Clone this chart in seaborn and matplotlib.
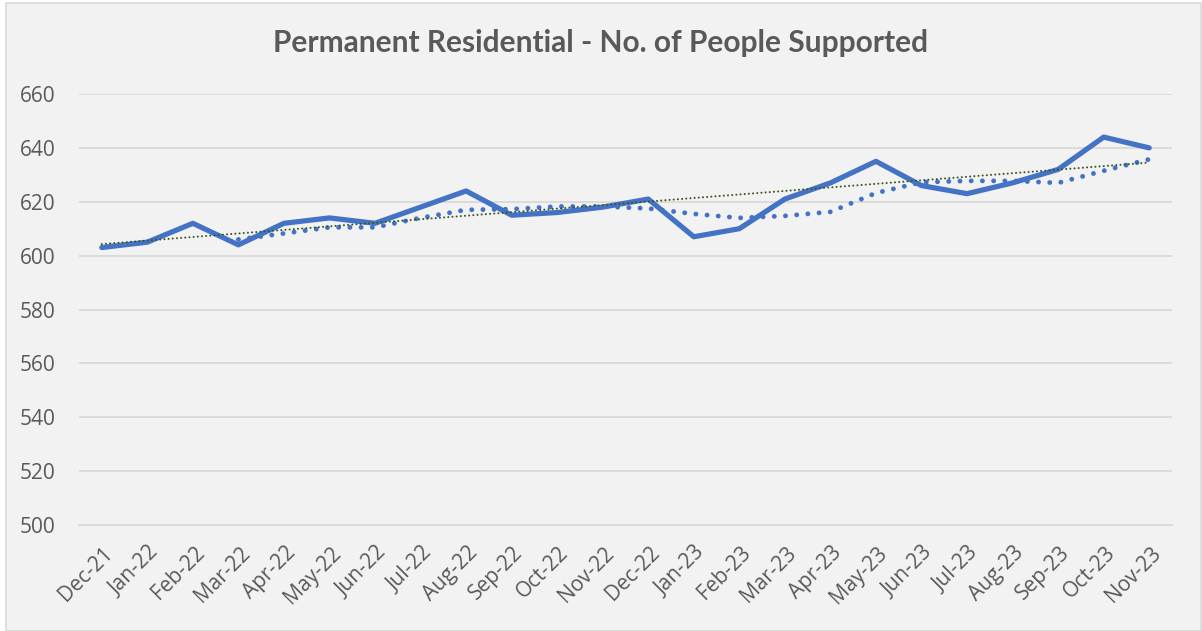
import numpy as np
import pandas as pd
import seaborn as sns
import matplotlib.pyplot as plt
from matplotlib.patches import Rectangle
from matplotlib.transforms import ScaledTranslation

months = ['Dec-21', 'Jan-22', 'Feb-22', 'Mar-22', 'Apr-22', 'May-22', 'Jun-22',
          'Jul-22', 'Aug-22', 'Sep-22', 'Oct-22', 'Nov-22', 'Dec-22', 'Jan-23',
          'Feb-23', 'Mar-23', 'Apr-23', 'May-23', 'Jun-23', 'Jul-23', 'Aug-23',
          'Sep-23', 'Oct-23', 'Nov-23']
people = [603, 605, 612, 604, 612, 614, 612, 618, 624, 615, 616, 618,
          621, 607, 610, 621, 627, 635, 626, 623, 627, 632, 644, 640]
y_ticks = [500, 520, 540, 560, 580, 600, 620, 640, 660]
title = 'Permanent Residential - No. of People Supported'

blue = '#4472c4'
grey_text = '#595959'
grid_col = '#d9d9d9'
trend_col = '#385723'

sns.set_style('white')
plt.rcParams['font.family'] = ['Open Sans', 'DejaVu Sans']

df = pd.DataFrame({'month': months, 'people': people})
df['idx'] = np.arange(len(df))
df['ma4'] = df['people'].rolling(4).mean()

fig = plt.figure(figsize=(12.02, 6.31), dpi=100, facecolor='white')
fig.patches.append(Rectangle((6 / 1202, 0), 1 - 7 / 1202, 1 - 3 / 631,
                             transform=fig.transFigure, facecolor='#f2f2f2',
                             edgecolor=grid_col, linewidth=1.2, zorder=-10))
ax = fig.add_axes([79 / 1202, 1 - 525 / 631, (1172 - 79) / 1202, (525 - 94) / 631])
ax.set_facecolor('none')

# main series
sns.lineplot(data=df, x='idx', y='people', ax=ax, color=blue, linewidth=3.75,
             solid_capstyle='round', solid_joinstyle='round', zorder=3)
# 4 period moving average
sns.lineplot(data=df.dropna(), x='idx', y='ma4', ax=ax, color=blue, linewidth=3.5,
             linestyle=(0, (0.01, 2.3)), dash_capstyle='round', zorder=4)
# linear trend
sns.regplot(data=df, x='idx', y='people', ax=ax, scatter=False, ci=None,
            line_kws={'color': trend_col, 'linewidth': 1.5,
                      'linestyle': (0, (0.01, 2.0)), 'dash_capstyle': 'round',
                      'zorder': 5})

ax.set_xlim(-0.5, len(months) - 0.5)
ax.set_ylim(500, 660)
ax.set_yticks(y_ticks)
ax.set_yticklabels([str(v) for v in y_ticks])
ax.yaxis.grid(True, color=grid_col, linewidth=1.3)
ax.set_axisbelow(True)

ax.set_xticks(df['idx'])
ax.set_xticklabels(months, rotation=45, ha='right', va='center',
                   rotation_mode='anchor')
ax.set_xticks(np.arange(-0.5, len(months), 1), minor=True)
ax.tick_params(axis='x', which='major', length=0, pad=18, labelsize=15,
               labelcolor=grey_text)
ax.tick_params(axis='x', which='minor', length=7, width=1.3, color=grid_col,
               direction='out')
ax.tick_params(axis='y', length=0, pad=17, labelsize=15, labelcolor=grey_text)
offset = ScaledTranslation(6 / 72, 0, fig.dpi_scale_trans)
for lbl in ax.get_xticklabels():
    lbl.set_transform(lbl.get_transform() + offset)

for side in ['top', 'right', 'left']:
    ax.spines[side].set_visible(False)
ax.spines['bottom'].set_color(grid_col)
ax.spines['bottom'].set_linewidth(1.3)
ax.set_xlabel('')
ax.set_ylabel('')

fig.text(0.5, 1 - 43 / 631, title, ha='center', va='center', fontsize=21.5,
         fontweight='bold', color=grey_text, family=['Lato', 'DejaVu Sans'])

fig.savefig('out.png', dpi=100, facecolor=fig.get_facecolor())
